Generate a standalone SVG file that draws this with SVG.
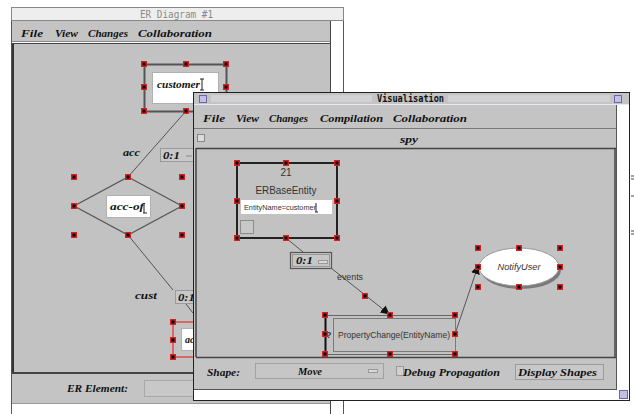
<svg xmlns="http://www.w3.org/2000/svg" xmlns:xlink="http://www.w3.org/1999/xlink" width="634" height="414" viewBox="0 0 634 414">
<style>
.menu{font-family:"Liberation Serif",serif;font-weight:bold;font-style:italic;font-size:10.5px;fill:#111}
.lbl{font-family:"Liberation Serif",serif;font-weight:bold;font-style:italic;font-size:10px;fill:#111}
.sans{font-family:"Liberation Sans",Arial,sans-serif;fill:#333}
.conn{stroke:#555;stroke-width:1;fill:none}
.panel{fill:#c4c4c4}
.canvas{fill:#c2c2c2}
.shade{stroke:#7a7a7a;stroke-width:1;fill:none}
</style>
<defs>
<g id="hd"><rect x="-3" y="-3" width="6" height="6" fill="#d42020"/><rect x="-1.5" y="-1.5" width="3" height="3" fill="#000"/></g>
<marker id="arr" viewBox="0 0 10 10" refX="9" refY="5" markerWidth="9" markerHeight="9" orient="auto" markerUnits="userSpaceOnUse"><path d="M0,0 L10,5 L0,10 z" fill="#111"/></marker>
</defs>
<rect width="634" height="414" fill="#fff"/>

<!-- ER Diagram #1 window -->
<g id="er-window">
<rect x="11.5" y="7.5" width="332" height="420" fill="#fff" stroke="#555"/>
<rect x="11.5" y="7.5" width="332" height="13" fill="#eeeeee" stroke="#888"/>
<text x="140" y="18" font-family="DejaVu Sans Mono,monospace" font-size="10.5" fill="#8a8a8a" textLength="73" lengthAdjust="spacingAndGlyphs">ER Diagram #1</text>
<rect x="12" y="21" width="318" height="21" class="panel"/>
<line x1="12" y1="41.5" x2="330" y2="41.5" stroke="#8a8a8a"/>
<text class="menu" x="21" y="36.5" textLength="22" lengthAdjust="spacingAndGlyphs">File</text>
<text class="menu" x="55" y="36.5" textLength="23" lengthAdjust="spacingAndGlyphs">View</text>
<text class="menu" x="88" y="36.5" textLength="40" lengthAdjust="spacingAndGlyphs">Changes</text>
<text class="menu" x="138" y="36.5" textLength="74" lengthAdjust="spacingAndGlyphs">Collaboration</text>
<rect x="12" y="43" width="318" height="330" class="canvas"/>
<line x1="13" y1="43" x2="13" y2="373" stroke="#333" stroke-width="2"/>
<line x1="12" y1="43.5" x2="330" y2="43.5" stroke="#444"/>
<line x1="12" y1="373" x2="330" y2="373" stroke="#444" stroke-width="2"/>
<line x1="330.5" y1="21" x2="330.5" y2="414" stroke="#444"/>
<rect x="12" y="374" width="318" height="29" class="panel"/>
<line x1="12" y1="403.5" x2="330" y2="403.5" stroke="#999"/>
<text class="menu" x="67" y="391.5" textLength="61" lengthAdjust="spacingAndGlyphs">ER Element:</text>
<rect x="144.5" y="380.5" width="60" height="16" fill="#c8c8c8" stroke="#a8a8a8"/>
</g>

<g id="er-connectors">
<line class="conn" x1="186" y1="111" x2="128" y2="177"/>
<line class="conn" x1="128" y1="235" x2="173" y2="290"/>
<line class="conn" x1="186" y1="304" x2="193" y2="313"/>
</g>

<g id="er-customer">
<rect x="144.5" y="64.5" width="82" height="47" fill="#c4c4c4" stroke="#555" stroke-width="2"/>
<rect x="152.5" y="72.5" width="66" height="31" fill="#fff" stroke="#b0b0b0"/>
<text class="lbl" x="157" y="88" textLength="43" lengthAdjust="spacingAndGlyphs">customer</text>
<path d="M200,79 h4 M202,79 v11 M200,90 h4" stroke="#222" stroke-width="1" fill="none"/>
<use xlink:href="#hd" x="144" y="64"/><use xlink:href="#hd" x="186" y="64"/><use xlink:href="#hd" x="226" y="64"/>
<use xlink:href="#hd" x="144" y="87"/><use xlink:href="#hd" x="226" y="87"/>
<use xlink:href="#hd" x="144" y="111"/><use xlink:href="#hd" x="186" y="111"/><use xlink:href="#hd" x="226" y="111"/>
</g>

<g id="er-acc-label">
<text class="lbl" x="123" y="156" textLength="17" lengthAdjust="spacingAndGlyphs">acc</text>
</g>
<g id="er-card-top">
<rect x="160.5" y="148.5" width="40" height="13" fill="#c8c8c8" stroke="#9a9a9a"/>
<text class="lbl" x="163" y="159" textLength="17" lengthAdjust="spacingAndGlyphs">0:1</text>
<line x1="186" y1="156" x2="192" y2="156" stroke="#888"/>
</g>

<g id="er-acc-of">
<polygon points="128,177 182,206 128,235 74,206" fill="none" stroke="#555" stroke-width="1.2"/>
<rect x="106.5" y="195.5" width="44" height="22" fill="#fff" stroke="#b0b0b0"/>
<text class="lbl" x="110" y="210" textLength="34" lengthAdjust="spacingAndGlyphs">acc-of</text>
<path d="M144,203 v10 M143,213 h4" stroke="#222" fill="none"/>
<use xlink:href="#hd" x="74" y="177"/><use xlink:href="#hd" x="128" y="177"/><use xlink:href="#hd" x="182" y="177"/>
<use xlink:href="#hd" x="74" y="206"/><use xlink:href="#hd" x="182" y="206"/>
<use xlink:href="#hd" x="74" y="235"/><use xlink:href="#hd" x="128" y="235"/><use xlink:href="#hd" x="182" y="235"/>
</g>

<g id="er-cust-label">
<text class="lbl" x="135" y="299" textLength="22" lengthAdjust="spacingAndGlyphs">cust</text>
</g>
<g id="er-card-bottom">
<rect x="175.5" y="290.5" width="30" height="13" fill="#c8c8c8" stroke="#9a9a9a"/>
<text class="lbl" x="178" y="301" textLength="17" lengthAdjust="spacingAndGlyphs">0:1</text>
</g>

<g id="er-account">
<rect x="173" y="322" width="40" height="35" fill="#c4c4c4" stroke="#e03030" stroke-width="1.2"/>
<rect x="181.5" y="328.5" width="25" height="22" fill="#fff" stroke="#b0b0b0"/>
<text class="lbl" x="185" y="343">ac</text>
<use xlink:href="#hd" x="173" y="322"/><use xlink:href="#hd" x="173" y="340"/><use xlink:href="#hd" x="173" y="357"/>
</g>

<!-- third window edge on the right -->
<g id="back-window-edge">
<path d="M631,176 h3 M631,179 h3 M631,196 h3 M631,231 h3 M631,234 h3" stroke="#444"/>
</g>

<!-- Visualisation window -->
<g id="vis-window">
<rect x="193.5" y="92.5" width="436" height="308" fill="#fff" stroke="#222"/>
<rect x="194" y="93" width="435" height="11" fill="#c4c4c4"/>
<rect x="211" y="95" width="399" height="7" fill="#d2d2d2"/>
<rect x="372" y="93" width="76" height="11" fill="#c4c4c4"/>
<rect x="199.5" y="95.5" width="7" height="7" fill="#c0c0e8" stroke="#6a6aa0"/>
<rect x="614.5" y="95.5" width="7" height="7" fill="#c0c0e8" stroke="#6a6aa0"/>
<text x="377" y="102" font-family="DejaVu Sans Mono,monospace" font-weight="bold" font-size="10.5" fill="#111" textLength="67" lengthAdjust="spacingAndGlyphs">Visualisation</text>
<line x1="194" y1="104.5" x2="629" y2="104.5" stroke="#e8e8f4"/>
<rect x="194" y="105" width="423" height="285" class="panel"/>
<line x1="194" y1="128.5" x2="617" y2="128.5" stroke="#7a7a7a"/>
<line x1="616.5" y1="105" x2="616.5" y2="390" stroke="#555"/>
<text class="menu" x="203" y="121.5" textLength="22" lengthAdjust="spacingAndGlyphs">File</text>
<text class="menu" x="236" y="121.5" textLength="23" lengthAdjust="spacingAndGlyphs">View</text>
<text class="menu" x="269" y="121.5" textLength="39" lengthAdjust="spacingAndGlyphs">Changes</text>
<text class="menu" x="320" y="121.5" textLength="63" lengthAdjust="spacingAndGlyphs">Compilation</text>
<text class="menu" x="393" y="121.5" textLength="74" lengthAdjust="spacingAndGlyphs">Collaboration</text>
<rect x="197.5" y="134.5" width="7" height="7" fill="#dcdcdc" stroke="#888"/>
<text class="menu" x="400" y="143" textLength="18" lengthAdjust="spacingAndGlyphs">spy</text>
<rect x="196" y="148" width="420" height="209" class="canvas"/>
<line x1="196" y1="148.5" x2="616" y2="148.5" stroke="#444" stroke-width="1.5"/>
<line x1="196" y1="148" x2="196" y2="357" stroke="#444" stroke-width="1.5"/>
<line x1="196" y1="357.5" x2="616" y2="357.5" stroke="#444" stroke-width="1.5"/>
<line x1="615" y1="148" x2="615" y2="357" stroke="#444" stroke-width="1.5"/>
<text class="menu" x="207" y="375.5" textLength="33" lengthAdjust="spacingAndGlyphs">Shape:</text>
<rect x="255.5" y="363.5" width="128" height="15" fill="#c6c6c6" stroke="#a2a2a2"/>
<text class="menu" x="298" y="375" textLength="24" lengthAdjust="spacingAndGlyphs">Move</text>
<rect x="368.5" y="369.5" width="9" height="3" fill="#d8d8d8" stroke="#999"/>
<rect x="396.5" y="366.5" width="7" height="9" fill="#d0d0d0" stroke="#999"/>
<text class="menu" x="403" y="375.5" textLength="97" lengthAdjust="spacingAndGlyphs">Debug Propagation</text>
<rect x="515.5" y="364.5" width="88" height="15" fill="#c8c8c8" stroke="#9c9c9c"/>
<text class="menu" x="518" y="375.5" textLength="79" lengthAdjust="spacingAndGlyphs">Display Shapes</text>
<line x1="194" y1="389.5" x2="617" y2="389.5" stroke="#555"/>
<rect x="619.5" y="390.5" width="8" height="8" fill="#c0c0e8" stroke="#6a6aa0"/>
</g>

<g id="vis-connectors">
<line class="conn" x1="286" y1="238" x2="303" y2="252"/>
<line class="conn" x1="331" y1="268" x2="389" y2="314" stroke="#333" marker-end="url(#arr)"/>
<line class="conn" x1="455" y1="334" x2="478" y2="266" stroke="#333" marker-end="url(#arr)"/>
<text class="sans" x="337" y="280" font-size="9" textLength="26" lengthAdjust="spacingAndGlyphs">events</text>
<use xlink:href="#hd" x="365" y="296"/>
</g>

<g id="vis-erbaseentity">
<rect x="237" y="163" width="100" height="75" fill="none" stroke="#222" stroke-width="2"/>
<text class="sans" x="286" y="176" font-size="10" text-anchor="middle" fill="#444">21</text>
<text class="sans" x="286" y="194" font-size="10.5" text-anchor="middle" textLength="61" lengthAdjust="spacingAndGlyphs" fill="#444">ERBaseEntity</text>
<rect x="241" y="200" width="91" height="14" fill="#fff"/>
<text class="sans" x="244" y="210" font-size="6.5" textLength="72" lengthAdjust="spacingAndGlyphs" fill="#222">EntityName=customer</text>
<path d="M316,203 v9 M315,212 h3" stroke="#222" fill="none"/>
<rect x="240.5" y="220.5" width="13" height="13" fill="#c8c8c8" stroke="#8c8c8c"/>
<use xlink:href="#hd" x="237" y="163"/><use xlink:href="#hd" x="286" y="163"/><use xlink:href="#hd" x="337" y="163"/>
<use xlink:href="#hd" x="237" y="201"/><use xlink:href="#hd" x="337" y="201"/>
<use xlink:href="#hd" x="237" y="238"/><use xlink:href="#hd" x="286" y="238"/><use xlink:href="#hd" x="337" y="238"/>
</g>

<g id="vis-card">
<rect x="290.5" y="252.5" width="41" height="16" fill="#c6c6c6" stroke="#555" stroke-width="1.2"/>
<rect x="292.5" y="254.5" width="37" height="12" fill="none" stroke="#999"/>
<text class="lbl" x="296" y="264" textLength="17" lengthAdjust="spacingAndGlyphs">0:1</text>
<rect x="318.5" y="260.5" width="9" height="3" fill="#d8d8d8" stroke="#999"/>
</g>

<g id="vis-propertychange">
<rect x="325.5" y="315.5" width="130" height="39" fill="none" stroke="#666"/>
<rect x="333.5" y="318.5" width="122" height="33" fill="none" stroke="#7a7a7a"/>
<line x1="325.5" y1="315" x2="325.5" y2="354" stroke="#111" stroke-width="2"/>
<text class="sans" x="326" y="338" font-size="9" font-weight="bold" fill="#222">?</text>
<text class="sans" x="338" y="338" font-size="9" textLength="112" lengthAdjust="spacingAndGlyphs" fill="#444">PropertyChange(EntityName)</text>
<use xlink:href="#hd" x="325" y="315"/><use xlink:href="#hd" x="390" y="315"/><use xlink:href="#hd" x="455" y="315"/>
<use xlink:href="#hd" x="325" y="334"/><use xlink:href="#hd" x="455" y="334"/>
<use xlink:href="#hd" x="325" y="354"/><use xlink:href="#hd" x="390" y="354"/><use xlink:href="#hd" x="455" y="354"/>
</g>

<g id="vis-notifyuser">
<ellipse cx="521" cy="270" rx="40" ry="19" fill="#7a7a7a"/>
<ellipse cx="519" cy="267" rx="40" ry="19" fill="#fff" stroke="#999"/>
<text class="sans" x="519" y="270" font-size="9" font-style="italic" text-anchor="middle" textLength="43" lengthAdjust="spacingAndGlyphs" fill="#666">NotifyUser</text>
<use xlink:href="#hd" x="478" y="248"/><use xlink:href="#hd" x="519" y="248"/><use xlink:href="#hd" x="560" y="248"/>
<use xlink:href="#hd" x="478" y="267"/><use xlink:href="#hd" x="560" y="267"/>
<use xlink:href="#hd" x="478" y="287"/><use xlink:href="#hd" x="519" y="287"/><use xlink:href="#hd" x="560" y="287"/>
</g>
</svg>
